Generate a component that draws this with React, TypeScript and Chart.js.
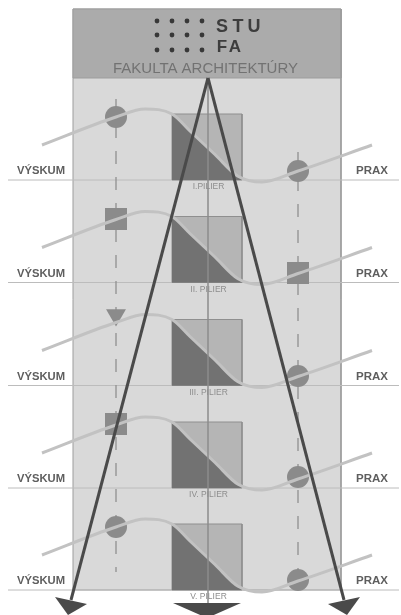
import React, { useEffect, useRef } from 'react';
import { Chart, registerables } from 'chart.js';

Chart.register(...registerables);

// ---------- content ----------
const headerMark = ['S', 'T', 'U'];
const headerMark2 = ['F', 'A'];
const headerTitle = 'FAKULTA ARCHITEKTÚRY';
const leftLabel = 'VÝSKUM';
const rightLabel = 'PRAX';
const pillarNames = ['I.PILIER', 'II. PILIER', 'III. PILIER', 'IV. PILIER', 'V. PILIER'];
const leftMarkerStyles = ['circle', 'rect', 'triangle', 'rect', 'circle'];
const rightMarkerStyles = ['circle', 'rect', 'circle', 'circle', 'circle'];

// ---------- values (diagram units = px of the 401x615 frame) ----------
const rowBaselines = [180, 282.5, 385.5, 488, 590];
const leftMarkerLevels = [117, 219, 315, 424, 527];
const rightMarkerLevels = [171, 273, 376, 477, 580];
const waveX = [42, 116, 145, 172, 190, 215, 238, 262, 298, 372];
const waveRise = [-35, -63, -71, -66, -49, -25.5, -3.8, 2, -9, -35];
const dotCols = [157, 172, 187, 202];
const dotRows = [21, 35, 50];

// ---------- geometry ----------
const W = 401;
const H = 615;
const PANEL = { x0: 73, x1: 341, y0: 9, y1: 590 };
const HEADER_BOTTOM = 78;
const PILLAR = { x0: 172, x1: 242, h: 66 };
const AXIS_X = 208;
const LEFT_DASH_X = 116;
const RIGHT_DASH_X = 298;
const APEX: [number, number] = [208, 78];
const LEFT_END: [number, number] = [71, 600];
const RIGHT_END: [number, number] = [344, 600];
const LEFT_HEAD: [number, number][] = [[55, 597], [87, 604], [68, 615]];
const RIGHT_HEAD: [number, number][] = [[328, 604], [360, 597], [347, 615]];
const CENTER_HEAD: [number, number][] = [[173, 603], [241, 603], [207, 618]];

const FONT = '"Liberation Sans", Arial, sans-serif';

type P = [number, number];
const toData = (pts: P[]) => pts.map(([x, y]) => ({ x, y }));

const poly = (pts: P[], fill: string, border?: string, bw = 0) => ({
  type: 'line',
  data: toData([...pts, pts[0]]),
  fill: 'shape',
  backgroundColor: fill,
  borderColor: border ?? fill,
  borderWidth: bw,
  borderJoinStyle: 'miter',
  pointRadius: 0,
  tension: 0,
  clip: false,
});

const seg = (pts: P[], color: string, bw: number, extra: any = {}) => ({
  type: 'line',
  data: toData(pts),
  fill: false,
  borderColor: color,
  borderWidth: bw,
  pointRadius: 0,
  tension: 0,
  clip: false,
  ...extra,
});

const markerRadius = (s: string) => (s === 'rect' ? 15.6 : s === 'triangle' ? 11.5 : 11);

const markers = (styles: string[], levels: number[], x: number) => ({
  type: 'line',
  showLine: false,
  data: levels.map((y) => ({ x, y })),
  pointStyle: styles,
  pointRadius: styles.map(markerRadius),
  pointHoverRadius: styles.map(markerRadius),
  pointRotation: styles.map((s) => (s === 'triangle' ? 180 : 0)),
  pointBackgroundColor: '#8b8b8b',
  pointBorderColor: '#8b8b8b',
  pointBorderWidth: 0,
  clip: false,
});

const textPlugin = {
  id: 'diagramText',
  afterDatasetsDraw(chart: any) {
    const { ctx, scales } = chart;
    const px = (v: number) => scales.x.getPixelForValue(v);
    const py = (v: number) => scales.y.getPixelForValue(v);

    const fit = (text: string, left: number, mid: number, width: number, font: string, color: string) => {
      ctx.save();
      ctx.font = font;
      const m = ctx.measureText(text).width;
      const sx = (px(left + width) - px(left)) / m;
      ctx.translate(px(left), py(mid));
      ctx.scale(sx, 1);
      ctx.fillStyle = color;
      ctx.textAlign = 'left';
      ctx.textBaseline = 'middle';
      ctx.fillText(text, 0, 0);
      ctx.restore();
    };
    const centered = (text: string, cx: number, mid: number, font: string, color: string) => {
      ctx.save();
      ctx.font = font;
      ctx.fillStyle = color;
      ctx.textAlign = 'center';
      ctx.textBaseline = 'middle';
      ctx.fillText(text, px(cx), py(mid));
      ctx.restore();
    };

    // header
    headerMark.forEach((c, i) => centered(c, 222 + i * 16, 27.5, `bold 18px ${FONT}`, '#3d3d3d'));
    headerMark2.forEach((c, i) => centered(c, 222 + i * 13, 47.5, `bold 17px ${FONT}`, '#3d3d3d'));
    fit(headerTitle, 113, 68.5, 185, `15px ${FONT}`, '#727272');

    // row labels
    rowBaselines.forEach((b, i) => {
      fit(leftLabel, 17, b - 9, 48, `bold 11.5px ${FONT}`, '#5e5e5e');
      fit(rightLabel, 356, b - 9, 32, `bold 11.5px ${FONT}`, '#5e5e5e');
      centered(pillarNames[i], AXIS_X + 0.5, b + 7, `8.5px ${FONT}`, '#8d8d8d');
    });
  },
};

export default function App() {
  const ref = useRef<HTMLCanvasElement>(null);

  useEffect(() => {
    const canvas = ref.current;
    if (!canvas) return;
    const layers: any[] = [];
    const add = (d: any) => layers.push(d);

    // panel + header
    add(poly([[PANEL.x0, PANEL.y0], [PANEL.x1, PANEL.y0], [PANEL.x1, PANEL.y1], [PANEL.x0, PANEL.y1]], '#d9d9d9', '#9d9d9d', 1));
    add(poly([[PANEL.x0, PANEL.y0], [PANEL.x1, PANEL.y0], [PANEL.x1, HEADER_BOTTOM], [PANEL.x0, HEADER_BOTTOM]], '#ababab', '#9d9d9d', 1));

    // row base lines
    rowBaselines.forEach((b) => add(seg([[8, b], [399, b]], '#bcbcbc', 1)));

    // pillars
    rowBaselines.forEach((b) => {
      const t = b - PILLAR.h;
      add(poly([[PILLAR.x0, t], [PILLAR.x1, t], [PILLAR.x1, b], [PILLAR.x0, b]], '#b5b5b5', '#8f8f8f', 1));
      add(poly([[PILLAR.x0, t], [PILLAR.x1, b], [PILLAR.x0, b]], '#727272'));
    });

    // dashed guides
    add(seg([[LEFT_DASH_X, 99], [LEFT_DASH_X, 572]], '#909090', 1.3, { borderDash: [13, 13] }));
    add(seg([[RIGHT_DASH_X, 152], [RIGHT_DASH_X, 594]], '#909090', 1.3, { borderDash: [13, 13] }));

    // markers
    add(markers(leftMarkerStyles, leftMarkerLevels, LEFT_DASH_X));
    add(markers(rightMarkerStyles, rightMarkerLevels, RIGHT_DASH_X));

    // waves
    rowBaselines.forEach((b) =>
      add({
        type: 'line',
        data: waveX.map((x, i) => ({ x, y: b + waveRise[i] })),
        fill: false,
        borderColor: '#c2c2c2',
        borderWidth: 3,
        pointRadius: 0,
        cubicInterpolationMode: 'monotone',
        clip: false,
      })
    );

    // central axis
    add(seg([[AXIS_X, HEADER_BOTTOM], [AXIS_X, 603]], '#8c8c8c', 1.5));

    // arrows
    add(seg([APEX, LEFT_END], '#4a4a4a', 3));
    add(seg([APEX, RIGHT_END], '#4a4a4a', 3));
    add(poly(LEFT_HEAD, '#4a4a4a'));
    add(poly(RIGHT_HEAD, '#4a4a4a'));
    add(poly(CENTER_HEAD, '#4a4a4a'));

    // header dots
    add({
      type: 'line',
      showLine: false,
      data: dotRows.flatMap((y) => dotCols.map((x) => ({ x, y }))),
      pointStyle: 'circle',
      pointRadius: 2.4,
      pointHoverRadius: 2.4,
      pointBackgroundColor: '#383838',
      pointBorderWidth: 0,
      clip: false,
    });

    // datasets drawn last-to-first, so put top layers first
    const datasets = layers.slice().reverse();

    const chart = new Chart(canvas, {
      type: 'line',
      data: { datasets },
      options: {
        animation: false,
        responsive: true,
        maintainAspectRatio: false,
        events: [],
        layout: { padding: 0, autoPadding: false },
        plugins: { legend: { display: false }, tooltip: { enabled: false } },
        scales: {
          x: { type: 'linear', min: 0, max: W, display: false, offset: false },
          y: { type: 'linear', min: 0, max: H, reverse: true, display: false, offset: false },
        },
      },
      plugins: [textPlugin],
    } as any);
    return () => chart.destroy();
  }, []);

  return (
    <div style={{ position: 'fixed', left: 0, top: 0, width: W, height: H, background: '#ffffff' }}>
      <canvas ref={ref} />
    </div>
  );
}
